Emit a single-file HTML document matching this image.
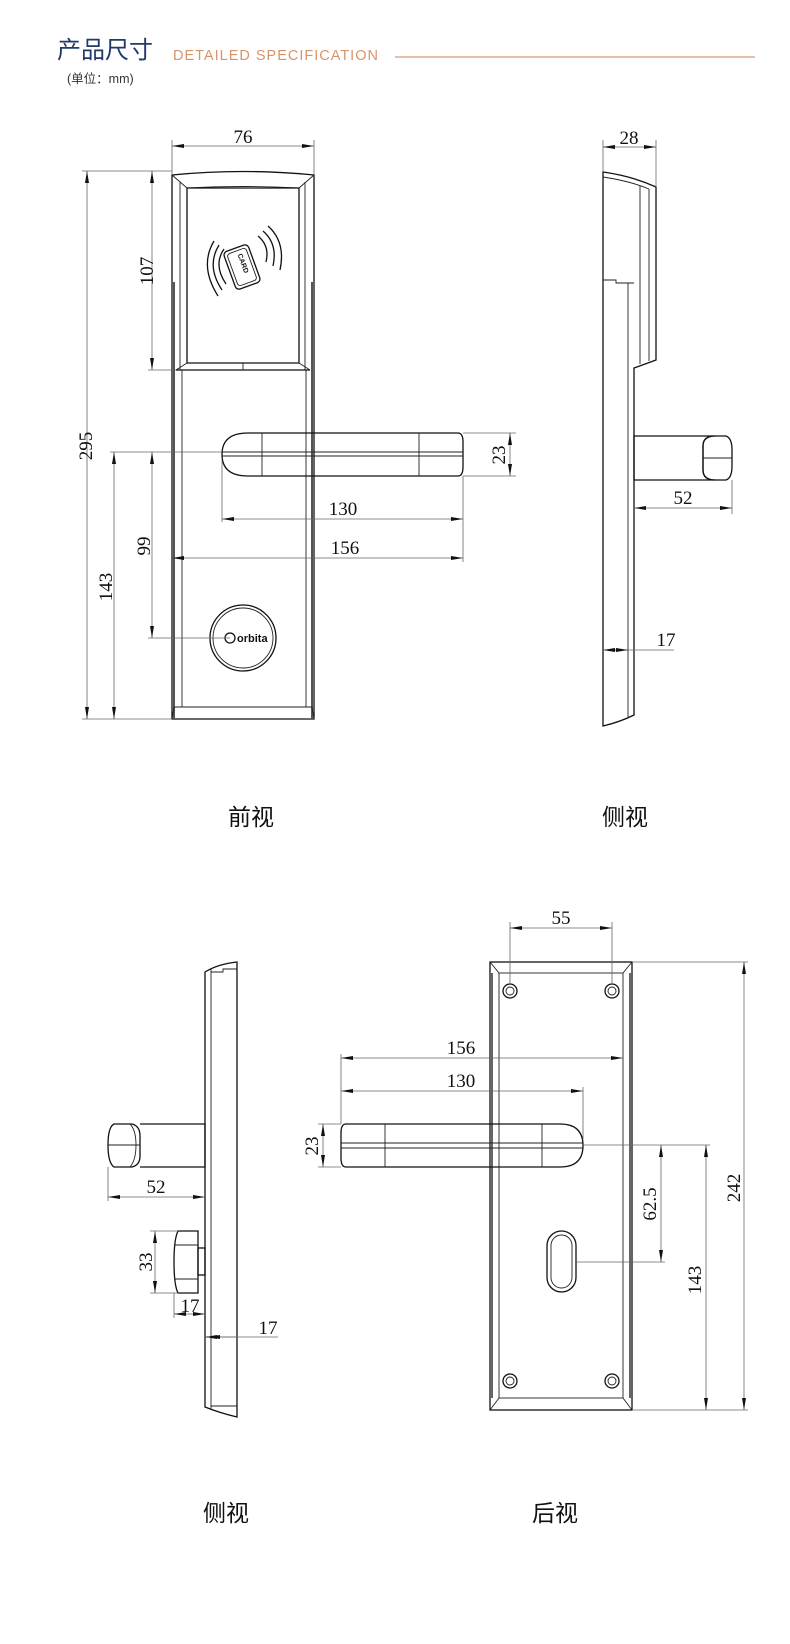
<!DOCTYPE html>
<html><head><meta charset="utf-8"><style>
html,body{margin:0;padding:0;background:#fff;}
svg{display:block;}
.o{fill:none;stroke:#111;stroke-width:1.3;}
.t{fill:none;stroke:#222;stroke-width:0.9;}
.d{fill:none;stroke:#666;stroke-width:0.8;}
.n{font-family:"Liberation Serif",serif;font-size:19px;fill:#111;}
.c{font-family:"Liberation Sans","Noto Sans CJK SC",sans-serif;font-size:23px;fill:#111;}
</style></head><body>
<svg width="790" height="1644" viewBox="0 0 790 1644" xmlns="http://www.w3.org/2000/svg">
<defs>
<marker id="a" viewBox="0 0 12 4" refX="12" refY="2" markerWidth="12" markerHeight="4" markerUnits="userSpaceOnUse" orient="auto-start-reverse"><path d="M0,0 L12,2 L0,4 Z" fill="#111"/></marker>
</defs>
<!-- header -->
<text x="57" y="58" font-family="'Liberation Sans','Noto Sans CJK SC',sans-serif" font-size="24" fill="#1f3a6b">产品尺寸</text>
<text x="173" y="60" font-family="'Liberation Sans',sans-serif" font-size="14.5" fill="#d9936a" letter-spacing="1">DETAILED SPECIFICATION</text>
<line x1="395" y1="57" x2="755" y2="57" stroke="#d49a74" stroke-width="1.2"/>
<text x="67" y="83" font-family="'Liberation Sans','Noto Sans CJK SC',sans-serif" font-size="12.5" fill="#333">(单位：mm)</text>

<!-- FRONT VIEW -->
<path class="o" d="M172,175 Q243,168 314,175 L314,719 L172,719 Z"/>
<line class="t" x1="182" y1="370" x2="182" y2="707"/>
<line class="t" x1="306" y1="370" x2="306" y2="707"/>
<line class="t" x1="180" y1="182" x2="180" y2="370"/>
<line class="t" x1="305" y1="182" x2="305" y2="370"/>
<line x1="174" y1="282" x2="174" y2="719" stroke="#555" stroke-width="2"/>
<line x1="312" y1="282" x2="312" y2="719" stroke="#555" stroke-width="2"/>
<path class="t" d="M172,175 L187,188 Q243,185 299,188 L314,175"/>
<path class="o" d="M187,188 L299,188 L299,363 L187,363 Z"/>
<path class="t" d="M176,370 L187,363 M310,370 L299,363"/>
<line class="o" x1="176" y1="370" x2="310" y2="370"/>
<line class="t" x1="243" y1="363" x2="243" y2="370"/>
<path class="t" d="M174,707 L312,707 M174,707 L172,719 M312,707 L314,719"/>
<!-- card icon -->
<g transform="translate(242,267) rotate(-20)">
<rect x="-13" y="-20" width="26" height="40" rx="4" class="o"/>
<rect x="-10" y="-17" width="20" height="34" rx="3" class="t"/>
<text x="0" y="-3" font-family="'Liberation Sans',sans-serif" font-size="7" font-weight="bold" text-anchor="middle" transform="rotate(90 0 -3)" fill="#111">CARD</text>
</g>
<g class="o" stroke-width="1.2">
<path d="M224,249 Q213,265 226,284"/><path d="M219,245 Q206,266 222,290"/><path d="M214,241 Q199,266 218,296"/>
<path d="M258,236 Q270,246 266,262"/><path d="M263,231 Q278,244 273,266"/><path d="M268,226 Q286,242 280,270"/>
</g>
<!-- handle -->
<path class="o" d="M248,433 L458,433 Q463,433 463,442 L463,467 Q463,476 458,476 L248,476 Q222,476 222,454.5 Q222,433 248,433 Z"/>
<line class="t" x1="262" y1="433" x2="262" y2="476"/>
<line class="t" x1="419" y1="433" x2="419" y2="476"/>
<line class="t" x1="222" y1="452" x2="463" y2="452"/>
<line class="t" x1="222" y1="456" x2="463" y2="456"/>
<!-- cylinder -->
<circle cx="243" cy="638" r="33" class="o"/>
<circle cx="243" cy="638" r="30" class="t"/>
<circle cx="230" cy="638" r="5" class="o"/>
<text x="237" y="642" font-family="'Liberation Sans',sans-serif" font-size="11" font-weight="bold" fill="#111">orbita</text>
<!-- front dims -->
<line class="d" x1="172" y1="140" x2="172" y2="175"/><line class="d" x1="314" y1="140" x2="314" y2="175"/>
<line class="d" x1="172" y1="146" x2="314" y2="146" marker-start="url(#a)" marker-end="url(#a)"/>
<text class="n" x="243" y="143" text-anchor="middle">76</text>
<line class="d" x1="82" y1="171" x2="172" y2="171"/>
<line class="d" x1="82" y1="719" x2="172" y2="719"/>
<line class="d" x1="87" y1="171" x2="87" y2="719" marker-start="url(#a)" marker-end="url(#a)"/>
<text class="n" x="92" y="446" text-anchor="middle" transform="rotate(-90 92 446)">295</text>
<line class="d" x1="148" y1="370" x2="176" y2="370"/>
<line class="d" x1="152" y1="171" x2="152" y2="370" marker-start="url(#a)" marker-end="url(#a)"/>
<text class="n" x="153" y="271" text-anchor="middle" transform="rotate(-90 153 271)">107</text>
<line class="d" x1="110" y1="452" x2="222" y2="452"/>
<line class="d" x1="148" y1="638" x2="230" y2="638"/>
<line class="d" x1="152" y1="452" x2="152" y2="638" marker-start="url(#a)" marker-end="url(#a)"/>
<text class="n" x="150" y="546" text-anchor="middle" transform="rotate(-90 150 546)">99</text>
<line class="d" x1="114" y1="452" x2="114" y2="719" marker-start="url(#a)" marker-end="url(#a)"/>
<text class="n" x="112" y="587" text-anchor="middle" transform="rotate(-90 112 587)">143</text>
<line class="d" x1="463" y1="433" x2="516" y2="433"/><line class="d" x1="463" y1="476" x2="516" y2="476"/>
<line class="d" x1="510" y1="433" x2="510" y2="476" marker-start="url(#a)" marker-end="url(#a)"/>
<text class="n" x="505" y="455" text-anchor="middle" transform="rotate(-90 505 455)">23</text>
<line class="d" x1="222" y1="460" x2="222" y2="522"/><line class="d" x1="463" y1="476" x2="463" y2="562"/>
<line class="d" x1="222" y1="519" x2="463" y2="519" marker-start="url(#a)" marker-end="url(#a)"/>
<text class="n" x="343" y="515" text-anchor="middle">130</text>
<line class="d" x1="172" y1="558" x2="463" y2="558" marker-start="url(#a)" marker-end="url(#a)"/>
<text class="n" x="345" y="554" text-anchor="middle">156</text>
<text class="c" x="251" y="825" text-anchor="middle">前视</text>

<!-- SIDE VIEW (top) -->
<path class="o" d="M603,172 Q632,176 656,187 L656,360 L634,368 L634,715 Q620,722 603,726 Z"/>
<path class="t" d="M603,177 Q630,181 649,189"/>
<line class="t" x1="640" y1="186" x2="640" y2="364"/>
<line class="t" x1="649" y1="189" x2="649" y2="361"/>
<path class="t" d="M603,280 L616,280 L616,283 L634,283"/>
<line class="t" x1="628" y1="283" x2="628" y2="717"/>
<path class="o" d="M634,436 L715,436 Q703,436 703,446 L703,470 Q703,480 715,480 L634,480 Z"/>
<path class="o" d="M715,436 L726,436 Q732,438 732,450 L732,466 Q732,478 726,480 L715,480 Q703,480 703,470 L703,446 Q703,436 715,436 Z"/>
<line class="t" x1="703" y1="458" x2="732" y2="458"/>
<line class="d" x1="603" y1="140" x2="603" y2="172"/><line class="d" x1="656" y1="140" x2="656" y2="187"/>
<line class="d" x1="603" y1="147" x2="656" y2="147" marker-start="url(#a)" marker-end="url(#a)"/>
<text class="n" x="629" y="144" text-anchor="middle">28</text>
<line class="d" x1="732" y1="480" x2="732" y2="514"/>
<line class="d" x1="634" y1="508" x2="732" y2="508" marker-start="url(#a)" marker-end="url(#a)"/>
<text class="n" x="683" y="504" text-anchor="middle">52</text>
<line class="d" x1="603" y1="650" x2="674" y2="650"/>
<line class="d" x1="603" y1="650" x2="616" y2="650" marker-start="url(#a)"/>
<line class="d" x1="616" y1="650" x2="628" y2="650" marker-end="url(#a)"/>
<text class="n" x="666" y="646" text-anchor="middle">17</text>
<text class="c" x="625" y="825" text-anchor="middle">侧视</text>

<!-- SIDE VIEW (bottom) -->
<path class="o" d="M205,972 Q218,964 237,962 L237,1417 Q220,1413 205,1407 Z"/>
<line class="t" x1="211" y1="969" x2="211" y2="1410"/>
<path class="t" d="M211,972 L223,972 L223,969 L237,969"/>
<path class="t" d="M211,1406 L237,1406"/>
<path class="o" d="M140,1124 L205,1124 L205,1167 L140,1167"/>
<path class="o" d="M114,1124 L132,1124 Q140,1126 140,1136 L140,1156 Q140,1165 132,1167 L114,1167 Q108,1163 108,1145 Q108,1127 114,1124 Z"/>
<path class="t" d="M130,1124 Q136,1130 136,1145 Q136,1160 130,1167"/>
<line class="t" x1="108" y1="1145" x2="140" y2="1145"/>
<path class="o" d="M178,1231 L198,1231 L198,1293 L178,1293 Q174,1285 174,1262 Q174,1239 178,1231 Z"/>
<line class="t" x1="175" y1="1245" x2="198" y2="1245"/><line class="t" x1="175" y1="1279" x2="198" y2="1279"/>
<rect x="198" y="1248" width="7" height="27" class="o"/>
<line class="d" x1="108" y1="1167" x2="108" y2="1201"/>
<line class="d" x1="108" y1="1197" x2="205" y2="1197" marker-start="url(#a)" marker-end="url(#a)"/>
<text class="n" x="156" y="1193" text-anchor="middle">52</text>
<line class="d" x1="150" y1="1231" x2="178" y2="1231"/><line class="d" x1="150" y1="1293" x2="178" y2="1293"/>
<line class="d" x1="155" y1="1231" x2="155" y2="1293" marker-start="url(#a)" marker-end="url(#a)"/>
<text class="n" x="152" y="1262" text-anchor="middle" transform="rotate(-90 152 1262)">33</text>
<line class="d" x1="174" y1="1293" x2="174" y2="1318"/>
<line class="d" x1="174" y1="1314" x2="190" y2="1314" marker-start="url(#a)"/>
<line class="d" x1="190" y1="1314" x2="205" y2="1314" marker-end="url(#a)"/>
<text class="n" x="190" y="1312" text-anchor="middle">17</text>
<line class="d" x1="205" y1="1337" x2="278" y2="1337"/>
<line class="d" x1="205" y1="1337" x2="208" y2="1337" marker-start="url(#a)"/>
<line class="d" x1="208" y1="1337" x2="237" y2="1337" marker-start="url(#a)"/>
<text class="n" x="268" y="1334" text-anchor="middle">17</text>
<text class="c" x="226" y="1521" text-anchor="middle">侧视</text>

<!-- BACK VIEW -->
<rect x="490" y="962" width="142" height="448" class="o"/>
<rect x="499" y="973" width="124" height="425" class="t"/>
<path class="t" d="M490,962 L499,973 M632,962 L623,973 M490,1410 L499,1398 M632,1410 L623,1398"/>
<line x1="492" y1="973" x2="492" y2="1398" stroke="#333" stroke-width="1.5"/>
<line x1="630" y1="973" x2="630" y2="1398" stroke="#333" stroke-width="1.5"/>
<g class="o"><circle cx="510" cy="991" r="7"/><circle cx="612" cy="991" r="7"/><circle cx="510" cy="1381" r="7"/><circle cx="612" cy="1381" r="7"/></g>
<g class="t"><circle cx="510" cy="991" r="4"/><circle cx="612" cy="991" r="4"/><circle cx="510" cy="1381" r="4"/><circle cx="612" cy="1381" r="4"/></g>
<path class="o" d="M346,1124 L560,1124 Q583,1124 583,1145.5 Q583,1167 560,1167 L346,1167 Q341,1167 341,1158 L341,1133 Q341,1124 346,1124 Z"/>
<line class="t" x1="385" y1="1124" x2="385" y2="1167"/>
<line class="t" x1="542" y1="1124" x2="542" y2="1167"/>
<line class="t" x1="341" y1="1143" x2="583" y2="1143"/>
<line class="t" x1="341" y1="1148" x2="583" y2="1148"/>
<rect x="547" y="1231" width="29" height="61" rx="14.5" class="o"/>
<rect x="551" y="1235" width="21" height="53" rx="10.5" class="t"/>
<line class="d" x1="510" y1="922" x2="510" y2="984"/><line class="d" x1="612" y1="922" x2="612" y2="984"/>
<line class="d" x1="510" y1="928" x2="612" y2="928" marker-start="url(#a)" marker-end="url(#a)"/>
<text class="n" x="561" y="924" text-anchor="middle">55</text>
<line class="d" x1="341" y1="1054" x2="341" y2="1124"/><line class="d" x1="583" y1="1087" x2="583" y2="1140"/>
<line class="d" x1="341" y1="1058" x2="623" y2="1058" marker-start="url(#a)" marker-end="url(#a)"/>
<text class="n" x="461" y="1054" text-anchor="middle">156</text>
<line class="d" x1="341" y1="1091" x2="583" y2="1091" marker-start="url(#a)" marker-end="url(#a)"/>
<text class="n" x="461" y="1087" text-anchor="middle">130</text>
<line class="d" x1="318" y1="1124" x2="341" y2="1124"/><line class="d" x1="318" y1="1167" x2="341" y2="1167"/>
<line class="d" x1="323" y1="1124" x2="323" y2="1167" marker-start="url(#a)" marker-end="url(#a)"/>
<text class="n" x="318" y="1146" text-anchor="middle" transform="rotate(-90 318 1146)">23</text>
<line class="d" x1="583" y1="1145" x2="710" y2="1145"/>
<line class="d" x1="576" y1="1262" x2="665" y2="1262"/>
<line class="d" x1="632" y1="962" x2="748" y2="962"/><line class="d" x1="632" y1="1410" x2="748" y2="1410"/>
<line class="d" x1="661" y1="1145" x2="661" y2="1262" marker-start="url(#a)" marker-end="url(#a)"/>
<text class="n" x="656" y="1204" text-anchor="middle" transform="rotate(-90 656 1204)">62.5</text>
<line class="d" x1="706" y1="1145" x2="706" y2="1410" marker-start="url(#a)" marker-end="url(#a)"/>
<text class="n" x="701" y="1280" text-anchor="middle" transform="rotate(-90 701 1280)">143</text>
<line class="d" x1="744" y1="962" x2="744" y2="1410" marker-start="url(#a)" marker-end="url(#a)"/>
<text class="n" x="740" y="1188" text-anchor="middle" transform="rotate(-90 740 1188)">242</text>
<text class="c" x="555" y="1521" text-anchor="middle">后视</text>
</svg>
</body></html>
